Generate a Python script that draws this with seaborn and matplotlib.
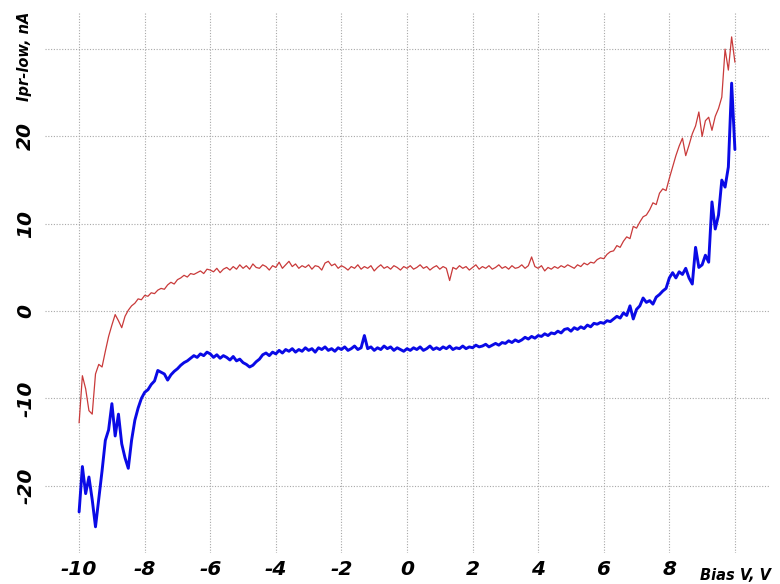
import numpy as np
import pandas as pd
import matplotlib
matplotlib.use("Agg")
import matplotlib.pyplot as plt
import seaborn as sns

# bias sweep, -10 V .. +10 V in 0.1 V steps
bias_start = -10.0
bias_stop = 10.0

# upper (red) trace, nA
red_current = [
    -12.8, -7.4, -8.9, -11.4, -11.8, -7.2, -6.1, -6.4, -4.6, -2.9,
    -1.6, -0.4, -1.1, -1.9, -0.6, 0.1, 0.6, 0.9, 1.4, 1.3,
    1.8, 1.7, 2.1, 2.0, 2.4, 2.6, 2.5, 3.0, 3.3, 3.1,
    3.6, 3.8, 4.1, 3.9, 4.3, 4.2, 4.4, 4.6, 4.3, 4.8,
    4.7, 4.5, 4.9, 4.4, 4.8, 5.0, 4.7, 5.1, 4.8, 5.3,
    4.9, 5.2, 4.8, 5.4, 5.0, 4.9, 5.3, 5.1, 4.7, 5.2,
    5.0, 5.6, 4.9, 5.3, 5.7, 5.1, 5.4, 4.9, 5.2, 5.0,
    5.3, 4.8, 5.2, 5.1, 4.7, 5.5, 5.7, 5.2, 5.4, 4.9,
    5.2, 5.0, 4.7, 5.1, 4.9, 5.3, 4.8, 5.1, 4.9, 5.2,
    4.6, 5.0, 5.3, 4.9, 5.1, 4.8, 5.2, 5.0, 4.7, 5.1,
    4.9, 5.2, 4.8, 5.0, 5.3, 4.9, 5.1, 4.7, 5.0, 5.2,
    4.8, 5.1, 4.9, 3.5, 5.0, 4.8, 5.2, 4.9, 5.1, 4.7,
    5.0, 5.3, 4.8, 5.1, 4.9, 5.2, 4.8, 5.0, 5.3, 4.9,
    5.1, 4.8, 5.2, 4.9, 5.0, 5.3, 4.9, 5.2, 6.2, 5.1,
    4.9, 5.2, 4.6, 5.0, 4.8, 5.1, 4.9, 5.2, 5.0, 5.3,
    5.1, 4.9, 5.3, 5.1, 5.5, 5.3, 5.6, 5.5, 5.9, 6.1,
    6.0, 6.5, 6.8, 6.9, 7.5, 7.3, 8.0, 8.5, 8.3, 9.7,
    9.5, 10.2, 10.8, 11.0, 11.6, 12.4, 12.2, 13.5, 14.0, 13.8,
    15.2, 16.5, 17.8, 18.9, 19.8, 17.8, 19.0, 20.3, 21.2, 22.8,
    20.0, 21.8, 22.2, 20.7, 22.3, 23.2, 24.5, 30.0, 27.6, 31.4,
    28.5,
]

# lower (blue) trace, nA
blue_current = [
    -23.0, -17.8, -20.9, -19.0, -21.6, -24.7, -21.5, -18.3, -14.8, -13.6,
    -10.6, -14.3, -11.8, -15.2, -16.8, -18.0, -14.8, -12.5, -11.1, -10.0,
    -9.3, -9.0, -8.4, -8.0, -6.8, -7.0, -7.2, -7.9, -7.3, -6.9,
    -6.6, -6.2, -5.9, -5.7, -5.4, -5.1, -5.3, -4.9, -5.1, -4.7,
    -4.9, -5.3, -5.0, -5.4, -5.1, -5.3, -5.6, -5.2, -5.7, -5.5,
    -5.9, -6.1, -6.4, -6.2, -5.8, -5.5, -5.0, -4.8, -5.1, -4.7,
    -4.9, -4.5, -4.8, -4.4, -4.6, -4.3, -4.7, -4.4, -4.6, -4.2,
    -4.5, -4.3, -4.7, -4.2, -4.4, -4.1, -4.5, -4.3, -4.6, -4.2,
    -4.4, -4.1, -4.5, -4.3, -4.0, -4.4, -4.2, -2.8, -4.3, -4.1,
    -4.5, -4.2, -4.4, -4.0, -4.3, -4.1, -4.5, -4.2, -4.4, -4.6,
    -4.3, -4.5, -4.2, -4.4, -4.1, -4.5, -4.3, -4.0, -4.4, -4.2,
    -4.4, -4.1, -4.3, -4.0, -4.4, -4.2, -4.3, -4.0, -4.3, -4.1,
    -4.2, -3.9, -4.1, -4.0, -3.8, -4.1, -3.9, -3.7, -3.9, -3.6,
    -3.7, -3.4, -3.6, -3.3, -3.5, -3.3, -3.0, -3.2, -2.9, -3.1,
    -2.8, -2.9, -2.6, -2.8, -2.5, -2.6, -2.3, -2.5, -2.1, -2.0,
    -2.3, -1.9, -2.1, -1.8, -2.0, -1.6, -1.8, -1.4, -1.5, -1.3,
    -1.4, -1.1, -1.2, -0.9, -0.6, -0.8, -0.2, -0.5, 0.6, -0.9,
    0.2, 0.6, 1.5, 1.0, 1.2, 0.8, 1.6, 1.9, 2.3, 2.6,
    3.8, 4.4, 3.8, 4.5, 4.2, 4.9, 3.8, 3.1, 7.3, 5.0,
    5.3, 6.4, 5.6, 12.5, 9.4, 11.0, 15.0, 14.2, 16.5, 26.1,
    18.5,
]

x_ticks = [-10, -8, -6, -4, -2, 0, 2, 4, 6, 8, 10]
x_tick_labels = ["-10", "-8", "-6", "-4", "-2", "0", "2", "4", "6", "8", ""]
y_ticks = [-20, -10, 0, 10, 20, 30]
y_tick_labels = ["-20", "-10", "0", "10", "20", ""]

bias = np.linspace(bias_start, bias_stop, len(red_current))
df = pd.DataFrame({"bias": bias, "red": red_current, "blue": blue_current})

sns.set_style("white")
plt.rcParams["font.family"] = ["DejaVu Sans"]
plt.rcParams["text.color"] = "black"
plt.rcParams["xtick.color"] = "black"
plt.rcParams["ytick.color"] = "black"

fig = plt.figure(figsize=(7.8, 5.84), dpi=100)
ax = fig.add_axes([45 / 780, 1 - 553 / 584, 725 / 780, 541 / 584])

sns.lineplot(data=df, x="bias", y="red", ax=ax, color="#c93a3a", linewidth=0.9,
             estimator=None, sort=False)
sns.lineplot(data=df, x="bias", y="blue", ax=ax, color="#0a0ae6", linewidth=2.1,
             estimator=None, sort=False)

ax.set_xlim(-11.04, 11.07)
ax.set_ylim(-27.7, 34.25)
ax.set_xticks(x_ticks)
ax.set_xticklabels(x_tick_labels, fontsize=14.5, fontweight="bold", style="italic",
                   color="black")
ax.set_yticks(y_ticks)
ax.set_yticklabels(y_tick_labels, fontsize=14.5, fontweight="bold", style="italic",
                   rotation=90, va="center", color="black")
ax.tick_params(axis="both", length=0)
ax.tick_params(axis="x", pad=5)
ax.tick_params(axis="y", pad=7)

ax.grid(True, color="#a8a8a8", linestyle=(0, (1, 1.5)), linewidth=0.8)
for s in ax.spines.values():
    s.set_visible(False)
ax.set_xlabel("")
ax.set_ylabel("")

fig.text(25 / 780, 1 - 12 / 584, "Ipr-low, nA", rotation=90, ha="center", va="top",
         fontsize=10.5, fontweight="bold", style="italic", color="black")
fig.text(736 / 780, 1 - 575 / 584, "Bias V, V", ha="center", va="center",
         fontsize=10.5, fontweight="bold", style="italic", color="black")

fig.savefig("out.png", dpi=100)
